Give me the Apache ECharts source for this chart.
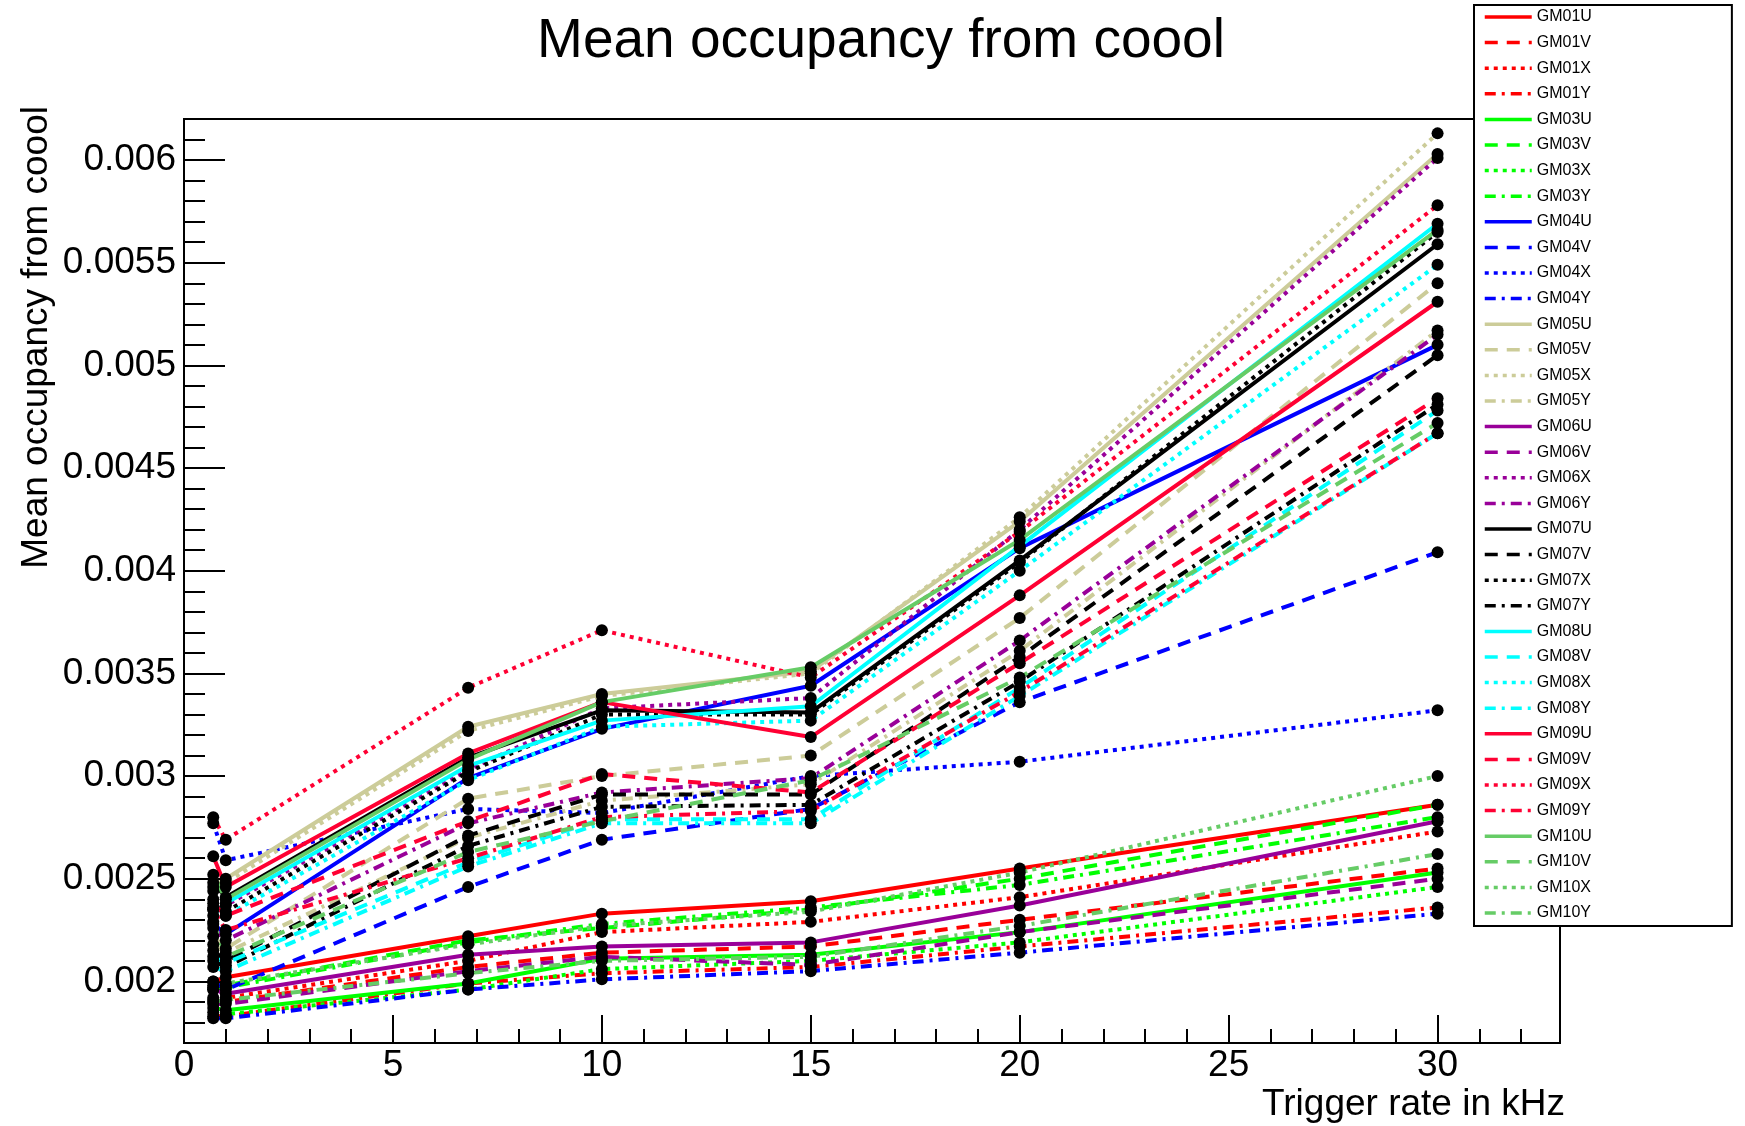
<!DOCTYPE html>
<html><head><meta charset="utf-8">
<script src="https://cdn.jsdelivr.net/npm/echarts@6/dist/echarts.min.js"></script>
<style>html,body{margin:0;padding:0;background:#fff}#c{width:1745px;height:1126px}</style>
</head><body><div id="c"></div>
<script>
// Trigger rates (kHz)
const xRate = [0.7, 1, 6.8, 10, 15, 20, 30];
// Mean occupancy per plane
const GM01U = [0.00200, 0.00202, 0.00222, 0.00233, 0.00239, 0.00255, 0.00286];
const GM01V = [0.00191, 0.00190, 0.00207, 0.00214, 0.00217, 0.00230, 0.00255];
const GM01X = [0.00192, 0.00192, 0.00210, 0.00224, 0.00229, 0.00241, 0.00273];
const GM01Y = [0.00183, 0.00183, 0.00199, 0.00204, 0.00207, 0.00217, 0.00236];
const GM03U = [0.00187, 0.00186, 0.00199, 0.00211, 0.00213, 0.00224, 0.00253];
const GM03V = [0.00197, 0.00198, 0.00220, 0.00226, 0.00235, 0.00250, 0.00286];
const GM03X = [0.00185, 0.00184, 0.00196, 0.00206, 0.00210, 0.00219, 0.00246];
const GM03Y = [0.00196, 0.00197, 0.00219, 0.00228, 0.00236, 0.00247, 0.00280];
const GM04U = [0.00228, 0.00223, 0.00299, 0.00323, 0.00344, 0.00411, 0.00510];
const GM04V = [0.00200, 0.00196, 0.00246, 0.00269, 0.00284, 0.00336, 0.00409];
const GM04X = [0.00277, 0.00259, 0.00284, 0.00282, 0.00300, 0.00307, 0.00332];
const GM04Y = [0.00182, 0.00182, 0.00196, 0.00201, 0.00205, 0.00214, 0.00233];
const GM05U = [0.00246, 0.00250, 0.00324, 0.00340, 0.00351, 0.00424, 0.00603];
const GM05V = [0.00222, 0.00216, 0.00289, 0.00300, 0.00310, 0.00377, 0.00540];
const GM05X = [0.00244, 0.00248, 0.00322, 0.00339, 0.00350, 0.00426, 0.00613];
const GM05Y = [0.00218, 0.00214, 0.00270, 0.00288, 0.00296, 0.00361, 0.00517];
const GM06U = [0.00196, 0.00194, 0.00213, 0.00217, 0.00219, 0.00237, 0.00278];
const GM06V = [0.00189, 0.00189, 0.00205, 0.00212, 0.00208, 0.00224, 0.00250];
const GM06X = [0.00236, 0.00237, 0.00303, 0.00333, 0.00338, 0.00420, 0.00601];
const GM06Y = [0.00226, 0.00220, 0.00277, 0.00292, 0.00299, 0.00366, 0.00515];
const GM07U = [0.00248, 0.00241, 0.00309, 0.00332, 0.00331, 0.00405, 0.00559];
const GM07V = [0.00215, 0.00210, 0.00271, 0.00291, 0.00291, 0.00358, 0.00505];
const GM07X = [0.00240, 0.00234, 0.00302, 0.00330, 0.00330, 0.00404, 0.00565];
const GM07Y = [0.00210, 0.00207, 0.00266, 0.00285, 0.00286, 0.00346, 0.00481];
const GM08U = [0.00232, 0.00238, 0.00305, 0.00327, 0.00334, 0.00412, 0.00569];
const GM08V = [0.00212, 0.00209, 0.00258, 0.00279, 0.00279, 0.00343, 0.00478];
const GM08X = [0.00235, 0.00232, 0.00298, 0.00324, 0.00327, 0.00400, 0.00549];
const GM08Y = [0.00207, 0.00205, 0.00256, 0.00277, 0.00277, 0.00339, 0.00467];
const GM09U = [0.00261, 0.00246, 0.00311, 0.00336, 0.00319, 0.00388, 0.00531];
const GM09V = [0.00238, 0.00232, 0.00278, 0.00301, 0.00292, 0.00355, 0.00484];
const GM09X = [0.00280, 0.00269, 0.00343, 0.00371, 0.00348, 0.00419, 0.00578];
const GM09Y = [0.00235, 0.00225, 0.00260, 0.00280, 0.00283, 0.00341, 0.00467];
const GM10U = [0.00252, 0.00240, 0.00308, 0.00336, 0.00353, 0.00415, 0.00566];
const GM10V = [0.00229, 0.00212, 0.00263, 0.00278, 0.00298, 0.00348, 0.00472];
const GM10X = [0.00198, 0.00199, 0.00218, 0.00227, 0.00234, 0.00253, 0.00300];
const GM10Y = [0.00190, 0.00191, 0.00204, 0.00210, 0.00212, 0.00227, 0.00262];

const seriesNames = ['GM01U','GM01V','GM01X','GM01Y','GM03U','GM03V','GM03X','GM03Y',
  'GM04U','GM04V','GM04X','GM04Y','GM05U','GM05V','GM05X','GM05Y','GM06U','GM06V','GM06X','GM06Y',
  'GM07U','GM07V','GM07X','GM07Y','GM08U','GM08V','GM08X','GM08Y','GM09U','GM09V','GM09X','GM09Y',
  'GM10U','GM10V','GM10X','GM10Y'];
const seriesValues = {GM01U,GM01V,GM01X,GM01Y,GM03U,GM03V,GM03X,GM03Y,GM04U,GM04V,GM04X,GM04Y,
  GM05U,GM05V,GM05X,GM05Y,GM06U,GM06V,GM06X,GM06Y,GM07U,GM07V,GM07X,GM07Y,GM08U,GM08V,GM08X,GM08Y,
  GM09U,GM09V,GM09X,GM09Y,GM10U,GM10V,GM10X,GM10Y};

// Tick labels
const xTickLabels = [0, 5, 10, 15, 20, 25, 30];
const yTickLabels = [0.002, 0.0025, 0.003, 0.0035, 0.004, 0.0045, 0.005, 0.0055, 0.006];

// Styles
const stationColor = {GM01:'#ff0000', GM03:'#00ff00', GM04:'#0000ff', GM05:'#cccc99', GM06:'#990099',
  GM07:'#000000', GM08:'#00ffff', GM09:'#ff0033', GM10:'#66cc66'};
const planeDash = {U:'solid', V:[13, 9], X:[4, 5], Y:[11, 6, 3, 6]};
const FONT = 'Liberation Sans, Arial, Helvetica, sans-serif';

const xMinor = [];
for (let i = 1; i <= 32; i++) if (i % 5 !== 0) xMinor.push(i);
const yMinor = [];
for (let i = 18; i <= 62; i++) if (i % 5 !== 0) yMinor.push(i / 10000);

const series = seriesNames.map(n => ({
  name: n,
  type: 'line',
  data: xRate.map((x, i) => [x, seriesValues[n][i]]),
  symbol: 'circle',
  symbolSize: 12,
  itemStyle: {color: '#000'},
  lineStyle: {color: stationColor[n.slice(0, 4)], width: 4, type: planeDash[n[4]], cap: 'butt'},
  emphasis: {disabled: true},
  animation: false
}));

const tickStyle = {color: '#000', width: 2};
const option = {
  animation: false,
  backgroundColor: '#fff',
  grid: {left: 184, top: 119, width: 1376, height: 924, show: true, borderColor: '#000', borderWidth: 2, backgroundColor: 'transparent'},
  xAxis: [
    {type: 'value', min: 0, max: 32.93, position: 'bottom',
     axisLine: {show: true, onZero: false, lineStyle: {color: '#000', width: 2}},
     axisTick: {show: true, inside: true, length: 28, lineStyle: tickStyle, customValues: xTickLabels},
     axisLabel: {customValues: xTickLabels, fontSize: 37, color: '#000', fontFamily: FONT, margin: 4},
     splitLine: {show: false}},
    {type: 'value', min: 0, max: 32.93, position: 'bottom',
     axisLine: {show: false, onZero: false},
     axisTick: {show: true, inside: true, length: 14, lineStyle: tickStyle, customValues: xMinor},
     axisLabel: {show: false}, splitLine: {show: false}}
  ],
  yAxis: [
    {type: 'value', min: 0.0017, max: 0.0062, position: 'left',
     axisLine: {show: true, onZero: false, lineStyle: {color: '#000', width: 2}},
     axisTick: {show: true, inside: true, length: 41, lineStyle: tickStyle, customValues: yTickLabels},
     axisLabel: {customValues: yTickLabels, fontSize: 37, color: '#000', fontFamily: FONT, margin: 8,
       formatter: v => String(parseFloat(Number(v).toPrecision(6)))},
     splitLine: {show: false}},
    {type: 'value', min: 0.0017, max: 0.0062, position: 'left',
     axisLine: {show: false, onZero: false},
     axisTick: {show: true, inside: true, length: 21, lineStyle: tickStyle, customValues: yMinor},
     axisLabel: {show: false}, splitLine: {show: false}}
  ],
  legend: {
    orient: 'vertical', left: 1474, top: 5, padding: [4, 140, 5, 9],
    itemWidth: 47, itemHeight: 14, itemGap: 9.6,
    backgroundColor: '#fff', borderColor: '#000', borderWidth: 2, borderRadius: 0,
    textStyle: {fontSize: 16, color: '#000', fontFamily: FONT, lineHeight: 16},
    itemStyle: {opacity: 0},
    lineStyle: {width: 3.5},
    selectedMode: false,
    data: seriesNames
  },
  graphic: [
    {type: 'text', x: 881, y: 42, silent: true,
     style: {text: 'Mean occupancy from coool', fontSize: 55, fontFamily: FONT, fill: '#000', align: 'center', verticalAlign: 'middle'}},
    {type: 'text', x: 37, y: 106, rotation: Math.PI / 2, silent: true,
     style: {text: 'Mean occupancy from coool', fontSize: 37, fontFamily: FONT, fill: '#000', align: 'right', verticalAlign: 'middle'}},
    {type: 'text', x: 1565, y: 1105, silent: true,
     style: {text: 'Trigger rate in kHz', fontSize: 37, fontFamily: FONT, fill: '#000', align: 'right', verticalAlign: 'middle'}}
  ],
  series: series
};
const chart = echarts.init(document.getElementById('c'), null, {renderer: 'canvas'});
chart.setOption(option);
</script>
</body></html>
